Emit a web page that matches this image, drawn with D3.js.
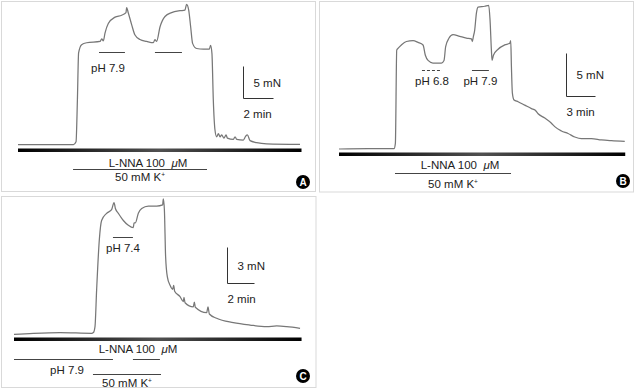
<!DOCTYPE html>
<html>

<head>
    <meta charset="UTF-8" />
    <title>tension traces</title>
    <style>
        body {
            margin: 0;
            padding: 0;
            background: #fff;
            font-family: 'Liberation Sans', Arial, sans-serif;
        }
    </style>
</head>

<body>
    <div class="container"></div>

    <script src="https://cdnjs.cloudflare.com/ajax/libs/d3/7.8.5/d3.min.js"></script>
    <script>
        // traces: [time (min), tension (mN)]
        const traceA = [[0, 0], [3.7, 0], [3.87, 0.44], [3.96, 6.95], [4.04, 14.3], [4.24, 15.6], [4.58, 15.9], [5.47, 16.1],
            [5.58, 16.5], [5.69, 16.2], [5.8, 17.4], [6.02, 18.9], [6.47, 19.9], [6.91, 20.2], [7.2, 20.6], [7.24, 21.4],
            [7.36, 20.5], [7.58, 18.7], [7.8, 17.1], [8.13, 16.4], [8.58, 16.1], [9.02, 15.9], [9.13, 16.4], [9.24, 16.1],
            [9.47, 18.4], [9.8, 20.0], [10.24, 20.6], [10.8, 20.9], [11.13, 21.0], [11.24, 21.9], [11.38, 21.0],
            [11.51, 18.4], [11.64, 15.8], [11.91, 15.0], [12.36, 14.9], [12.76, 14.9], [12.84, 15.5], [12.93, 14.2],
            [13.02, 7.0], [13.13, 2.3], [13.24, 1.2], [13.36, 1.7], [13.47, 1.2], [13.58, 1.5], [13.73, 1.0], [13.87, 1.5],
            [13.96, 1.0], [14.36, 0.8], [14.47, 1.2], [14.58, 0.8], [15.02, 0.7], [15.18, 1.3], [15.29, 1.5], [15.47, 0.6],
            [15.91, 0.3], [16.58, 0.1], [18.8, 0]];

        const traceB = [[0, 0], [3.0, 0.04], [5.69, 0.04], [5.83, 0.66], [5.97, 11.5], [6.1, 11.7], [6.45, 12.1], [6.97, 12.5],
            [7.66, 12.6], [8.17, 12.4], [8.69, 12.1], [8.93, 10.9], [9.21, 10.3], [9.72, 10.0], [10.59, 10.0], [10.86, 10.3],
            [11.03, 11.9], [11.38, 12.9], [11.79, 13.3], [12.48, 13.1], [13.17, 12.9], [13.69, 12.8], [13.79, 12.5],
            [13.9, 13.1], [14.03, 13.8], [14.21, 15.8], [14.38, 16.5], [15.07, 16.6], [15.48, 16.7], [15.62, 15.0],
            [15.76, 11.5], [15.83, 10.3], [15.97, 10.9], [16.45, 11.6], [17.14, 12.1], [17.66, 12.3], [17.76, 12.6],
            [17.83, 9.6], [17.93, 6.5], [18.1, 5.7], [18.52, 5.5], [19.21, 5.1], [19.9, 4.7], [20.3, 4.5], [20.59, 4.1],
            [21.28, 3.6], [21.97, 3.0], [22.31, 2.6], [23.0, 2.1], [23.69, 1.8], [24.38, 1.4], [25.07, 1.2], [26.1, 1.2],
            [27.14, 1.05], [28.17, 0.97], [29.55, 0.9]];

        const traceC = [[0, -0.08], [1.43, 0], [3.41, 0.06], [5.75, 0], [5.88, 0.06], [6.0, 0.56], [6.12, 3.6], [6.32, 7.8],
            [6.49, 9.4], [6.86, 10.0], [7.23, 10.3], [7.41, 10.9], [7.51, 10.4], [7.73, 10.0], [8.1, 9.4], [8.47, 9.0],
            [8.84, 8.8], [8.89, 9.2], [8.99, 9.2], [9.21, 10.0], [9.46, 10.4], [9.95, 10.6], [10.57, 10.6], [11.01, 10.7],
            [11.06, 11.2], [11.14, 10.3], [11.23, 6.4], [11.36, 4.7], [11.56, 4.0], [11.75, 3.67], [11.83, 4.0],
            [11.9, 3.5], [12.3, 3.06], [12.54, 2.64], [12.59, 3.0], [12.67, 2.55], [13.28, 2.2], [13.36, 2.6],
            [13.43, 2.17], [14.27, 1.72], [14.37, 2.2], [14.47, 1.61], [15.01, 1.25], [16.25, 0.89], [17.48, 0.69],
            [18.72, 0.56], [19.46, 0.61], [20.2, 0.56], [21.19, 0.42]];

        // application periods (min)
        const periodsA = [
            { label: 'pH 7.9', start: 5.4, end: 7.13 },
            { label: '', start: 9.13, end: 10.93 }
        ];
        const periodsB = [
            { label: 'pH 6.8', start: 8.58, end: 10.65, dashed: true },
            { label: 'pH 7.9', start: 13.75, end: 15.5 }
        ];
        const periodsC = [
            { label: 'pH 7.4', start: 7.33, end: 8.81 }
        ];
        const phBaseC = [[0, 7.33], [8.81, 10.81]];

        const lnnaA = [0, 18.9], lnnaB = [0, 29.6], lnnaC = [0, 21.3];
        const kA = [3.67, 12.6], kB = [5.79, 17.79], kC = [5.85, 10.89];

        const scaleBars = { A: ['5 mN', '2 min', 5, 2], B: ['5 mN', '3 min', 5, 3], C: ['3 mN', '2 min', 3, 2] };

        const svg = d3.select('.container').append('svg')
            .attr('width', 635)
            .attr('height', 389);

        const grad = svg.append('defs').append('linearGradient').attr('id', 'bar');
        grad.append('stop').attr('offset', '0%').attr('stop-color', '#000');
        grad.append('stop').attr('offset', '50%').attr('stop-color', '#505050');
        grad.append('stop').attr('offset', '100%').attr('stop-color', '#000');

        function label(g, x, y, str, anchor) {
            const t = g.append('text')
                .attr('x', x).attr('y', y)
                .attr('text-anchor', anchor || 'middle')
                .attr('font-size', 11.5)
                .attr('fill', '#222');
            if (str === 'L-NNA') {
                t.append('tspan').text('L-NNA 100\u00a0 ');
                t.append('tspan').attr('font-style', 'italic').text('\u03bc');
                t.append('tspan').text('M');
            } else if (str === 'K') {
                t.append('tspan').text('50 mM K');
                t.append('tspan').attr('font-size', 6.5).attr('dy', -4).text('+');
            } else {
                t.text(str);
            }
        }

        function hline(g, x1, x2, y, dashed) {
            g.append('line')
                .attr('x1', x1).attr('x2', x2).attr('y1', y).attr('y2', y)
                .attr('stroke', '#444').attr('stroke-width', 1)
                .attr('stroke-dasharray', dashed ? '3,2' : null);
        }

        function drawPanel(p) {
            const g = svg.append('g');
            g.append('rect')
                .attr('x', p.frame[0]).attr('y', p.frame[1])
                .attr('width', p.frame[2]).attr('height', p.frame[3])
                .attr('fill', 'none').attr('stroke', '#d9d9d9');

            const x = d3.scaleLinear().domain([0, 1]).range([p.x0, p.x0 + p.pxMin]);
            const y = d3.scaleLinear().domain([0, 1]).range([p.y0, p.y0 - p.pxMN]);

            const line = d3.line().x(d => x(d[0])).y(d => y(d[1])).curve(d3.curveMonotoneX);
            g.append('path')
                .attr('d', line(p.trace))
                .attr('fill', 'none')
                .attr('stroke', '#777')
                .attr('stroke-width', 1.25)
                .attr('stroke-linejoin', 'round');

            // L-NNA bar
            g.append('rect')
                .attr('x', x(p.lnna[0])).attr('y', p.barY)
                .attr('width', x(p.lnna[1]) - x(p.lnna[0])).attr('height', 3.5)
                .attr('fill', 'url(#bar)');
            label(g, p.lnnaX, p.lnnaY, 'L-NNA');

            // K+ line
            hline(g, x(p.k[0]), x(p.k[1]), p.kY);
            label(g, (x(p.k[0]) + x(p.k[1])) / 2, p.kTextY, 'K');

            p.periods.forEach(d => {
                hline(g, x(d.start), x(d.end), p.phY, d.dashed);
                if (d.label) label(g, (x(d.start) + x(d.end)) / 2 + (p.phDx || 0), p.phTextY, d.label);
            });

            // scale bar
            const sb = scaleBars[p.name];
            const sx = p.sbX, sy = p.sbY;
            g.append('path')
                .attr('d', `M${sx},${sy - sb[2] * p.pxMN}V${sy}H${sx + sb[3] * p.pxMin}`)
                .attr('fill', 'none').attr('stroke', '#333').attr('stroke-width', 1);
            label(g, sx + 10, sy - sb[2] * p.pxMN / 2 + 4, sb[0], 'start');
            label(g, sx, sy + 19, sb[1], 'start');

            if (p.extra) p.extra(g, x);

            g.append('circle').attr('cx', p.badge[0]).attr('cy', p.badge[1]).attr('r', 7).attr('fill', '#000');
            g.append('text')
                .attr('x', p.badge[0]).attr('y', p.badge[1] + 3.5)
                .attr('text-anchor', 'middle')
                .attr('font-size', 10).attr('font-weight', 'bold')
                .attr('fill', '#fff').text(p.name);
        }

        drawPanel({
            name: 'A', frame: [1.5, 1.5, 314, 190], badge: [303, 182],
            x0: 18, pxMin: 15, y0: 144.5, pxMN: 6.4, trace: traceA,
            lnna: lnnaA, barY: 148.5, lnnaX: 148, lnnaY: 166.5,
            k: kA, kY: 169.5, kTextY: 181,
            periods: periodsA, phY: 52.5, phTextY: 72, phDx: -4,
            sbX: 243.5, sbY: 98.5
        });

        drawPanel({
            name: 'B', frame: [319.5, 1.5, 314, 190.5], badge: [623, 181],
            x0: 339, pxMin: 9.67, y0: 149, pxMN: 8.6, trace: traceB,
            lnna: lnnaB, barY: 152.5, lnnaX: 460, lnnaY: 169,
            k: kB, kY: 173.5, kTextY: 187.5,
            periods: periodsB, phY: 70.5, phTextY: 85,
            sbX: 566.5, sbY: 96.5
        });

        drawPanel({
            name: 'C', frame: [1.5, 196.5, 314.5, 191], badge: [303, 376],
            x0: 14, pxMin: 13.5, y0: 333.3, pxMN: 12, trace: traceC,
            lnna: lnnaC, barY: 337.5, lnnaX: 138, lnnaY: 353,
            k: kC, kY: 374.5, kTextY: 386.5,
            periods: periodsC, phY: 237.5, phTextY: 252,
            sbX: 227.5, sbY: 283.5,
            extra: (g, x) => {
                phBaseC.forEach(d => hline(g, x(d[0]), x(d[1]), 359.5));
                label(g, x(3.93), 374, 'pH 7.9');
            }
        });
    </script>
</body>

</html>
